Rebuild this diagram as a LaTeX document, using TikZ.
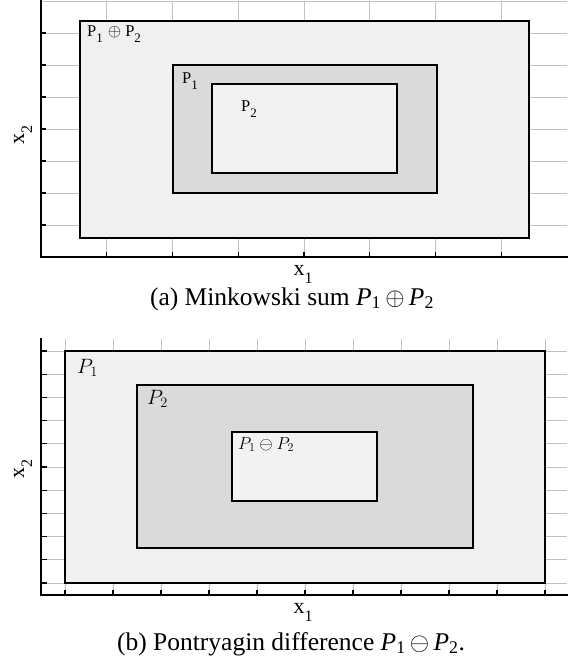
\documentclass[tikz,border=0pt]{standalone}
\usepackage{fontspec}
\setmainfont{Liberation Serif}
\definecolor{gridgray}{gray}{0.76}
\definecolor{outerfill}{gray}{0.94}
\definecolor{midfill}{gray}{0.855}
\definecolor{innerfill}{gray}{0.95}
\newcommand\psub[1]{P\raisebox{-6pt}{\fontsize{13}{13}\selectfont #1}}
\newcommand\axlab[1]{\fontsize{22}{22}\selectfont x\raisebox{-8pt}{\fontsize{16}{16}\selectfont #1}}
\begin{document}
\begin{tikzpicture}[x=1pt,y=-1pt,
  grid/.style={draw=gridgray, line width=0.9pt},
  box/.style={draw=black, line width=1.4pt},
  axisline/.style={draw=black, line width=1.5pt, line cap=rect},
  tickmark/.style={draw=black, line width=1.2pt},
  toplab/.style={anchor=base west, inner sep=0pt, font=\fontsize{16.5}{16.5}\selectfont},
  botlab/.style={anchor=base west, inner sep=0pt},
  caption/.style={anchor=base, inner sep=0pt, font=\fontsize{25.5}{25.5}\selectfont}]
\useasboundingbox (0,0) rectangle (567,663);
% ---------- (a) ----------
\foreach \i in {1,...,7} \draw[grid] ({41+65.75*\i},1) -- ({41+65.75*\i},257);
\draw[grid] (41,1.5) -- (567,1.5);
\foreach \j in {1,...,7} \draw[grid] (41,{1+32*\j}) -- (567,{1+32*\j});
\draw[box, fill=outerfill] (80,21) rectangle (529,238);
\draw[box, fill=midfill] (173,65) rectangle (437,193);
\draw[box, fill=innerfill] (212,84) rectangle (397,173);
\draw[axisline] (41,1) -- (41,257) -- (567,257);
\foreach \j in {1,...,7} \draw[tickmark] (41,{1+32*\j}) -- (46,{1+32*\j});
\foreach \i in {1,...,7} \draw[tickmark] ({41+65.75*\i},257) -- ({41+65.75*\i},252);
\node[toplab] (sumlab) at (87,37) {\psub{1}\hspace{5pt}$\oplus$\hspace{4pt}\psub{2}};
\node[toplab] (p1a) at (182,84) {\psub{1}};
\node[toplab] (p2a) at (241,112) {\psub{2}};
\node[anchor=base, inner sep=0pt] (x1a) at (303,275) {\axlab{1}};
\node[anchor=base, inner sep=0pt, rotate=90] (x2a) at (24,135) {\axlab{2}};
\node[caption] (capa) at (292,305) {(a) Minkowski sum \textit{P}\textsubscript{1}\,$\oplus$\,\textit{P}\textsubscript{2}};
% ---------- (b) ----------
\foreach \i in {0,...,10} \draw[grid] ({65+48*\i},339) -- ({65+48*\i},595);
\foreach \j in {0,...,10} \draw[grid] (41,{351+23.2*\j}) -- (567,{351+23.2*\j});
\draw[box, line width=2pt, fill=outerfill] (65,351) rectangle (545,583);
\draw[box, fill=midfill] (137,385) rectangle (473,548);
\draw[box, fill=innerfill] (232,432) rectangle (377,501);
\draw[axisline] (41,339) -- (41,595) -- (567,595);
\foreach \j in {0,...,10} \draw[tickmark] (41,{351+23.2*\j}) -- (47,{351+23.2*\j});
\foreach \i in {0,...,10} \draw[tickmark] ({65+48*\i},595) -- ({65+48*\i},590);
\node[botlab, font=\fontsize{22}{22}\selectfont] (p1b) at (77,373) {$P_1$};
\node[botlab, font=\fontsize{22}{22}\selectfont] (p2b) at (147,404) {$P_2$};
\node[botlab, font=\fontsize{17}{17}\selectfont] (diffb) at (238,449) {$P_1\ominus P_2$};
\node[anchor=base, inner sep=0pt] (x1b) at (303,613) {\axlab{1}};
\node[anchor=base, inner sep=0pt, rotate=90] (x2b) at (24,469) {\axlab{2}};
\node[caption] (capb) at (291,650) {(b) Pontryagin difference \textit{P}\textsubscript{1}\,$\ominus$\,\textit{P}\textsubscript{2}.};
\end{tikzpicture}
\end{document}
